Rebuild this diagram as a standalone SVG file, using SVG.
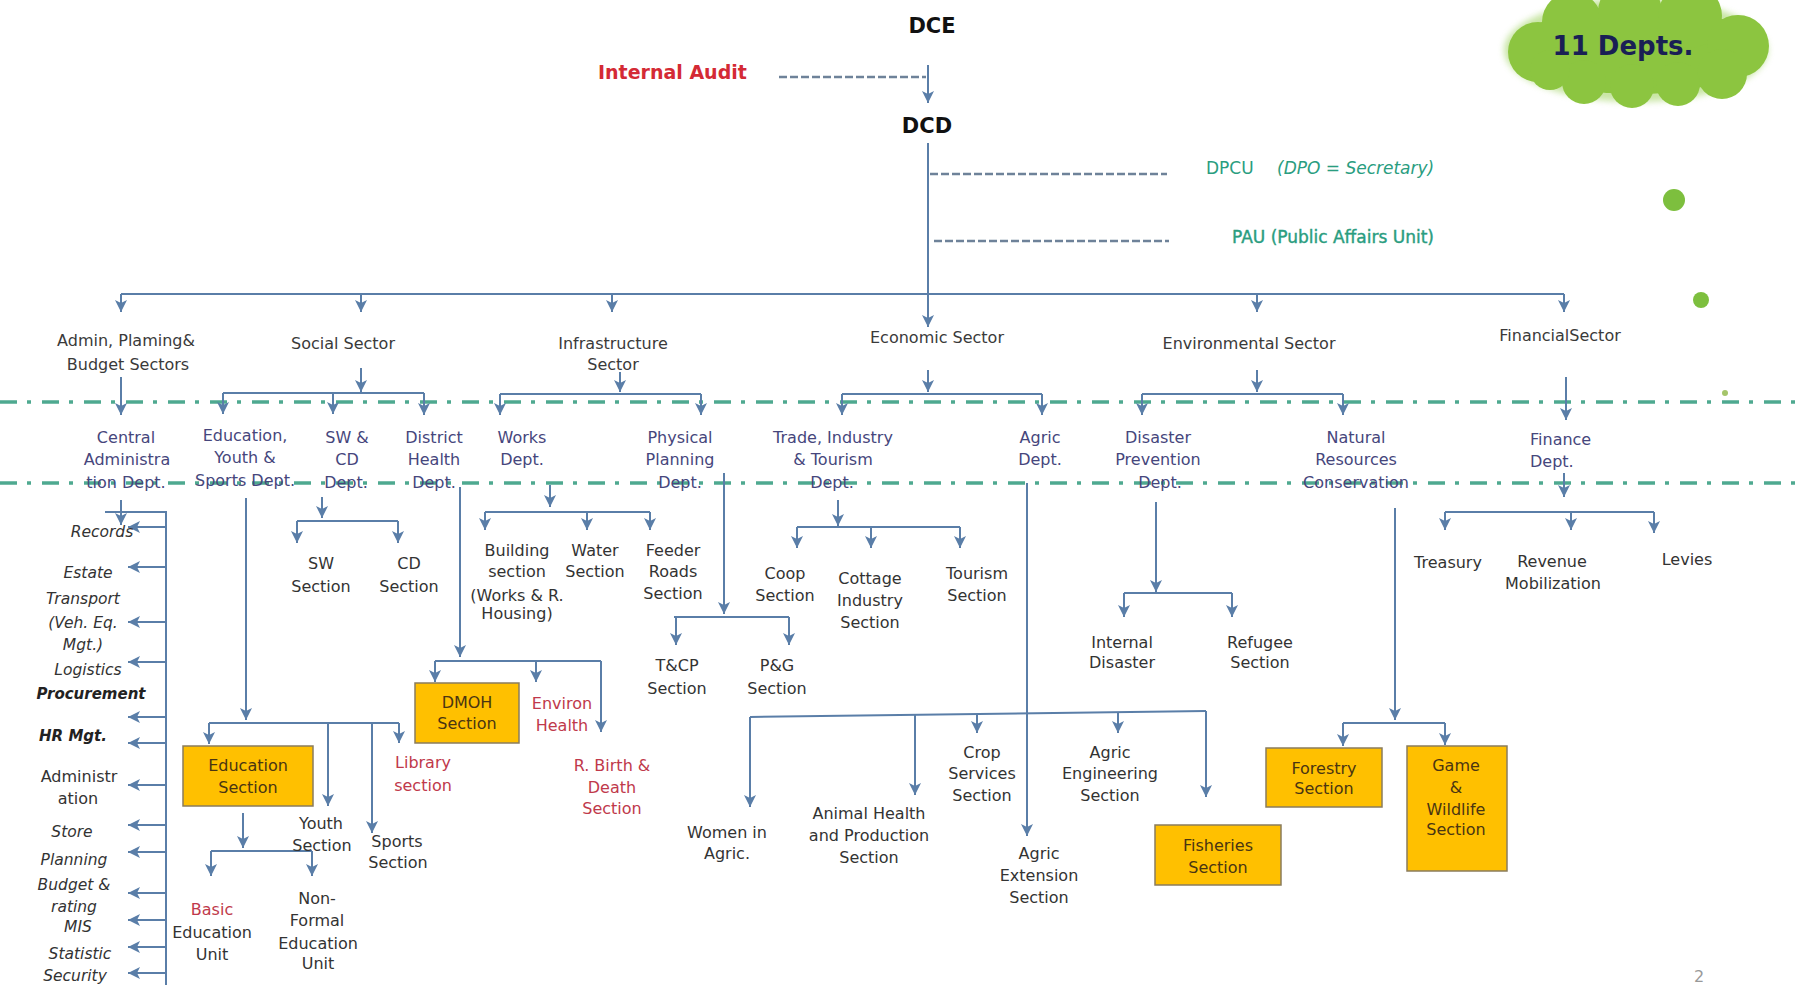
<svg xmlns="http://www.w3.org/2000/svg" width="1797" height="985" viewBox="0 0 1797 985">
<defs>
<marker id="ah" viewBox="0 0 10 10" refX="10" refY="5" markerWidth="12" markerHeight="12" markerUnits="userSpaceOnUse" orient="auto">
<path d="M0,0 L10,5 L0,10 L2.5,5 z" fill="#5a7ea8"/>
</marker>
<filter id="soft" x="-10%" y="-10%" width="120%" height="130%"><feGaussianBlur stdDeviation="3"/></filter>
<style>
text{font-family:"DejaVu Sans","Liberation Sans",sans-serif;font-size:16px;text-anchor:middle;fill:#333}
.sec{fill:#3a3a3a}
.dept{fill:#46467c}
.red{fill:#c0394b}
.it{font-style:italic;font-size:15.5px;fill:#333}
.bi{font-style:italic;font-weight:bold;font-size:15px;fill:#222}
.bx{fill:#4a3512}
.top{font-weight:bold;font-size:21px;fill:#111}
.teal{fill:#2a9d80;font-size:17px;text-anchor:start}
.c{fill:none;stroke:#5a7ea8;stroke-width:2}
.a{marker-end:url(#ah)}
.dash{fill:none;stroke:#6e8299;stroke-width:2.5;stroke-dasharray:8 3}
.dd{fill:none;stroke:#2f9a7d;stroke-width:3.5;stroke-dasharray:17 10 4 11;opacity:.85}
.box{fill:#ffc000;stroke:#8a7c5c;stroke-width:1.5}
</style>
</defs>
<rect width="1797" height="985" fill="#fff"/>

<!-- separators -->
<g id="separators">
<path class="dd" d="M0,402 H1797"/>
<path class="dd" d="M0,483 H1797"/>
</g>

<!-- cloud -->
<g id="cloud">
<g fill="#9bd05a" opacity="0.55" filter="url(#soft)">
<ellipse cx="1636" cy="50" rx="132" ry="52"/>
</g>
<g fill="#8cc540">
<ellipse cx="1636" cy="50" rx="122" ry="44"/>
<circle cx="1538" cy="52" r="30"/>
<circle cx="1572" cy="22" r="30"/>
<circle cx="1630" cy="12" r="32"/>
<circle cx="1690" cy="16" r="32"/>
<circle cx="1738" cy="46" r="31"/>
<circle cx="1722" cy="74" r="25"/>
<circle cx="1678" cy="84" r="22"/>
<circle cx="1632" cy="86" r="22"/>
<circle cx="1584" cy="82" r="22"/>
<circle cx="1550" cy="70" r="20"/>
</g>
<text x="1623" y="55" style="font-weight:bold;font-size:26px;fill:#1a1f55">11 Depts.</text>
<circle cx="1674" cy="200" r="11" fill="#7dbf3e"/>
<circle cx="1701" cy="300" r="8" fill="#7dbf3e"/>
<circle cx="1725" cy="393" r="3" fill="#a5c56a"/>
</g>

<!-- connectors -->
<g id="connectors">
<path class="dash" d="M779,77 H926"/>
<path class="dash" d="M930,174 H1167"/>
<path class="dash" d="M934,241 H1169"/>
<path class="c a" d="M928,65 V103"/>
<path class="c a" d="M928,143 V327"/>
<path class="c" d="M121,294 H1564"/>
<path class="c a" d="M121,294 V312"/>
<path class="c a" d="M361,294 V312"/>
<path class="c a" d="M612,294 V312"/>
<path class="c a" d="M1257,294 V312"/>
<path class="c a" d="M1564,294 V312"/>

<!-- sector to dept -->
<path class="c a" d="M121,377 V415"/>
<path class="c a" d="M361,368 V392"/>
<path class="c" d="M223,393 H424"/>
<path class="c a" d="M223,393 V414"/>
<path class="c a" d="M333,393 V414"/>
<path class="c a" d="M424,393 V415"/>
<path class="c a" d="M620,372 V392"/>
<path class="c" d="M500,394 H701"/>
<path class="c a" d="M500,394 V415"/>
<path class="c a" d="M701,394 V415"/>
<path class="c a" d="M928,370 V392"/>
<path class="c" d="M842,394 H1042"/>
<path class="c a" d="M842,394 V415"/>
<path class="c a" d="M1042,394 V415"/>
<path class="c a" d="M1257,370 V392"/>
<path class="c" d="M1142,394 H1343"/>
<path class="c a" d="M1142,394 V415"/>
<path class="c a" d="M1343,394 V415"/>
<path class="c a" d="M1566,377 V420"/>

<!-- central admin -->
<path class="c a" d="M121,500 V525"/>
<path class="c" d="M105,512 H166 V985"/>
<path class="c a" d="M166,527 H128"/>
<path class="c a" d="M166,567 H128"/>
<path class="c a" d="M166,622 H128"/>
<path class="c a" d="M166,662 H128"/>
<path class="c a" d="M166,717 H128"/>
<path class="c a" d="M166,743 H128"/>
<path class="c a" d="M166,785 H128"/>
<path class="c a" d="M166,825 H128"/>
<path class="c a" d="M166,852 H128"/>
<path class="c a" d="M166,893 H128"/>
<path class="c a" d="M166,920 H128"/>
<path class="c a" d="M166,947 H128"/>
<path class="c a" d="M166,973 H128"/>

<!-- education -->
<path class="c a" d="M246,498 V720"/>
<path class="c" d="M209,723 H399"/>
<path class="c a" d="M209,723 V744"/>
<path class="c a" d="M328,723 V806"/>
<path class="c a" d="M372,723 V833"/>
<path class="c a" d="M399,723 V743"/>
<path class="c a" d="M243,813 V848"/>
<path class="c" d="M211,851 H312"/>
<path class="c a" d="M211,851 V876"/>
<path class="c a" d="M312,851 V876"/>

<!-- SW & CD -->
<path class="c a" d="M322,497 V518"/>
<path class="c" d="M297,521 H398"/>
<path class="c a" d="M297,521 V543"/>
<path class="c a" d="M398,521 V543"/>

<!-- district health -->
<path class="c a" d="M460,487 V657"/>
<path class="c" d="M435,661 H601"/>
<path class="c a" d="M435,661 V682"/>
<path class="c a" d="M536,661 V682"/>
<path class="c a" d="M601,661 V732"/>

<!-- works -->
<path class="c a" d="M550,485 V507"/>
<path class="c" d="M485,512 H650"/>
<path class="c a" d="M485,512 V530"/>
<path class="c a" d="M587,512 V530"/>
<path class="c a" d="M650,512 V530"/>

<!-- physical planning -->
<path class="c a" d="M724,473 V614"/>
<path class="c" d="M674,617 H789"/>
<path class="c a" d="M676,617 V645"/>
<path class="c a" d="M789,617 V645"/>

<!-- trade -->
<path class="c a" d="M838,500 V526"/>
<path class="c" d="M797,527 H960"/>
<path class="c a" d="M797,527 V548"/>
<path class="c a" d="M871,527 V548"/>
<path class="c a" d="M960,527 V548"/>

<!-- agric -->
<path class="c a" d="M1027,483 V836"/>
<path class="c" d="M750,717 L1206,711"/>
<path class="c a" d="M750,717 V807"/>
<path class="c a" d="M915,715 V795"/>
<path class="c a" d="M977,714 V733"/>
<path class="c a" d="M1118,712 V733"/>
<path class="c a" d="M1206,711 V797"/>

<!-- disaster -->
<path class="c a" d="M1156,502 V592"/>
<path class="c" d="M1124,593 H1232"/>
<path class="c a" d="M1124,593 V617"/>
<path class="c a" d="M1232,593 V617"/>

<!-- natural resources -->
<path class="c a" d="M1395,508 V720"/>
<path class="c" d="M1343,723 H1445"/>
<path class="c a" d="M1343,723 V746"/>
<path class="c a" d="M1445,723 V745"/>

<!-- finance -->
<path class="c a" d="M1564,473 V497"/>
<path class="c" d="M1445,512 H1654"/>
<path class="c a" d="M1445,512 V530"/>
<path class="c a" d="M1571,512 V530"/>
<path class="c a" d="M1654,512 V533"/>
</g>

<!-- top nodes -->
<g id="dce"><text class="top" x="932" y="33">DCE</text></g>
<g id="internal-audit"><text x="598" y="79" style="text-anchor:start;font-weight:bold;font-size:19px;fill:#d42a35">Internal Audit</text></g>
<g id="dcd"><text class="top" x="927" y="133">DCD</text></g>
<g id="dpcu"><text class="teal" x="1206" y="174">DPCU <tspan x="1277" style="font-style:italic">(DPO = Secretary)</tspan></text></g>
<g id="pau"><text class="teal" x="1232" y="243" style="stroke:#2a9d80;stroke-width:0.4">PAU (Public Affairs Unit)</text></g>

<!-- sectors -->
<g id="sector-admin"><text class="sec" x="126" y="346">Admin, Plaming&amp;</text><text class="sec" x="128" y="370">Budget Sectors</text></g>
<g id="sector-social"><text class="sec" x="343" y="349">Social Sector</text></g>
<g id="sector-infra"><text class="sec" x="613" y="349">Infrastructure</text><text class="sec" x="613" y="370">Sector</text></g>
<g id="sector-economic"><text class="sec" x="937" y="343">Economic Sector</text></g>
<g id="sector-env"><text class="sec" x="1249" y="349">Environmental Sector</text></g>
<g id="sector-fin"><text class="sec" x="1560" y="341">FinancialSector</text></g>

<!-- departments -->
<g id="dept-central"><text class="dept" x="126" y="443">Central</text><text class="dept" x="127" y="465">Administra</text><text class="dept" x="126" y="488">tion Dept.</text></g>
<g id="dept-education"><text class="dept" x="245" y="441">Education,</text><text class="dept" x="245" y="463">Youth &amp;</text><text class="dept" x="245" y="486">Sports Dept.</text></g>
<g id="dept-swcd"><text class="dept" x="347" y="443">SW &amp;</text><text class="dept" x="347" y="465">CD</text><text class="dept" x="346" y="488">Dept.</text></g>
<g id="dept-health"><text class="dept" x="434" y="443">District</text><text class="dept" x="434" y="465">Health</text><text class="dept" x="434" y="488">Dept.</text></g>
<g id="dept-works"><text class="dept" x="522" y="443">Works</text><text class="dept" x="522" y="465">Dept.</text></g>
<g id="dept-physical"><text class="dept" x="680" y="443">Physical</text><text class="dept" x="680" y="465">Planning</text><text class="dept" x="680" y="488">Dept.</text></g>
<g id="dept-trade"><text class="dept" x="833" y="443">Trade, Industry</text><text class="dept" x="833" y="465">&amp; Tourism</text><text class="dept" x="832" y="488">Dept.</text></g>
<g id="dept-agric"><text class="dept" x="1040" y="443">Agric</text><text class="dept" x="1040" y="465">Dept.</text></g>
<g id="dept-disaster"><text class="dept" x="1158" y="443">Disaster</text><text class="dept" x="1158" y="465">Prevention</text><text class="dept" x="1160" y="488">Dept.</text></g>
<g id="dept-natural"><text class="dept" x="1356" y="443">Natural</text><text class="dept" x="1356" y="465">Resources</text><text class="dept" x="1356" y="488">Conservation</text></g>
<g id="dept-finance"><text class="dept" x="1530" y="445" style="text-anchor:start">Finance</text><text class="dept" x="1530" y="467" style="text-anchor:start">Dept.</text></g>

<!-- central admin units -->
<g id="units-central">
<text class="it" x="102" y="537">Records</text>
<text class="it" x="88" y="578">Estate</text>
<text class="it" x="83" y="604">Transport</text>
<text class="it" x="83" y="628">(Veh. Eq.</text>
<text class="it" x="83" y="650">Mgt.)</text>
<text class="it" x="88" y="675">Logistics</text>
<text class="bi" x="91" y="699">Procurement</text>
<text class="bi" x="73" y="741">HR Mgt.</text>
<text x="79" y="782" style="fill:#333">Administr</text>
<text x="78" y="804" style="fill:#333">ation</text>
<text class="it" x="72" y="837">Store</text>
<text class="it" x="74" y="865">Planning</text>
<text class="it" x="74" y="890">Budget &amp;</text>
<text class="it" x="74" y="912">rating</text>
<text class="it" x="78" y="932">MIS</text>
<text class="it" x="80" y="959">Statistic</text>
<text class="it" x="75" y="981">Security</text>
</g>

<!-- education sections -->
<g id="edu-section"><rect class="box" x="183" y="746" width="130" height="60"/><text class="bx" x="248" y="771">Education</text><text class="bx" x="248" y="793">Section</text></g>
<g id="youth-section"><text x="321" y="829">Youth</text><text x="322" y="851">Section</text></g>
<g id="sports-section"><text x="397" y="847">Sports</text><text x="398" y="868">Section</text></g>
<g id="library-section"><text class="red" x="423" y="768">Library</text><text class="red" x="423" y="791">section</text></g>
<g id="basic-unit"><text class="red" x="212" y="915">Basic</text><text x="212" y="938">Education</text><text x="212" y="960">Unit</text></g>
<g id="nonformal-unit"><text x="317" y="904">Non-</text><text x="317" y="926">Formal</text><text x="318" y="949">Education</text><text x="318" y="969">Unit</text></g>

<!-- SW CD sections -->
<g id="sw-section"><text x="321" y="569">SW</text><text x="321" y="592">Section</text></g>
<g id="cd-section"><text x="409" y="569">CD</text><text x="409" y="592">Section</text></g>

<!-- health sections -->
<g id="dmoh-section"><rect class="box" x="415" y="683" width="104" height="60"/><text class="bx" x="467" y="708">DMOH</text><text class="bx" x="467" y="729">Section</text></g>
<g id="environ-health"><text class="red" x="562" y="709">Environ</text><text class="red" x="562" y="731">Health</text></g>
<g id="birth-death"><text class="red" x="612" y="771">R. Birth &amp;</text><text class="red" x="612" y="793">Death</text><text class="red" x="612" y="814">Section</text></g>

<!-- works sections -->
<g id="building-section"><text x="517" y="556">Building</text><text x="517" y="577">section</text><text x="517" y="601">(Works &amp; R.</text><text x="517" y="619">Housing)</text></g>
<g id="water-section"><text x="595" y="556">Water</text><text x="595" y="577">Section</text></g>
<g id="feeder-section"><text x="673" y="556">Feeder</text><text x="673" y="577">Roads</text><text x="673" y="599">Section</text></g>

<!-- physical planning sections -->
<g id="tcp-section"><text x="677" y="671">T&amp;CP</text><text x="677" y="694">Section</text></g>
<g id="pg-section"><text x="777" y="671">P&amp;G</text><text x="777" y="694">Section</text></g>

<!-- trade sections -->
<g id="coop-section"><text x="785" y="579">Coop</text><text x="785" y="601">Section</text></g>
<g id="cottage-section"><text x="870" y="584">Cottage</text><text x="870" y="606">Industry</text><text x="870" y="628">Section</text></g>
<g id="tourism-section"><text x="977" y="579">Tourism</text><text x="977" y="601">Section</text></g>

<!-- agric sections -->
<g id="women-agric"><text x="727" y="838">Women in</text><text x="727" y="859">Agric.</text></g>
<g id="animal-health"><text x="869" y="819">Animal Health</text><text x="869" y="841">and Production</text><text x="869" y="863">Section</text></g>
<g id="crop-services"><text x="982" y="758">Crop</text><text x="982" y="779">Services</text><text x="982" y="801">Section</text></g>
<g id="agric-engineering"><text x="1110" y="758">Agric</text><text x="1110" y="779">Engineering</text><text x="1110" y="801">Section</text></g>
<g id="agric-extension"><text x="1039" y="859">Agric</text><text x="1039" y="881">Extension</text><text x="1039" y="903">Section</text></g>
<g id="fisheries-section"><rect class="box" x="1155" y="825" width="126" height="60"/><text class="bx" x="1218" y="851">Fisheries</text><text class="bx" x="1218" y="873">Section</text></g>

<!-- disaster sections -->
<g id="internal-disaster"><text x="1122" y="648">Internal</text><text x="1122" y="668">Disaster</text></g>
<g id="refugee-section"><text x="1260" y="648">Refugee</text><text x="1260" y="668">Section</text></g>

<!-- natural resources sections -->
<g id="forestry-section"><rect class="box" x="1266" y="748" width="116" height="59"/><text class="bx" x="1324" y="774">Forestry</text><text class="bx" x="1324" y="794">Section</text></g>
<g id="game-section"><rect class="box" x="1407" y="746" width="100" height="125"/><text class="bx" x="1456" y="771">Game</text><text class="bx" x="1456" y="793">&amp;</text><text class="bx" x="1456" y="815">Wildlife</text><text class="bx" x="1456" y="835">Section</text></g>

<!-- finance sections -->
<g id="treasury"><text x="1448" y="568">Treasury</text></g>
<g id="revenue"><text x="1552" y="567">Revenue</text><text x="1553" y="589">Mobilization</text></g>
<g id="levies"><text x="1687" y="565">Levies</text></g>

<g id="page-number"><text x="1699" y="982" style="font-size:16px;fill:#999">2</text></g>
</svg>
